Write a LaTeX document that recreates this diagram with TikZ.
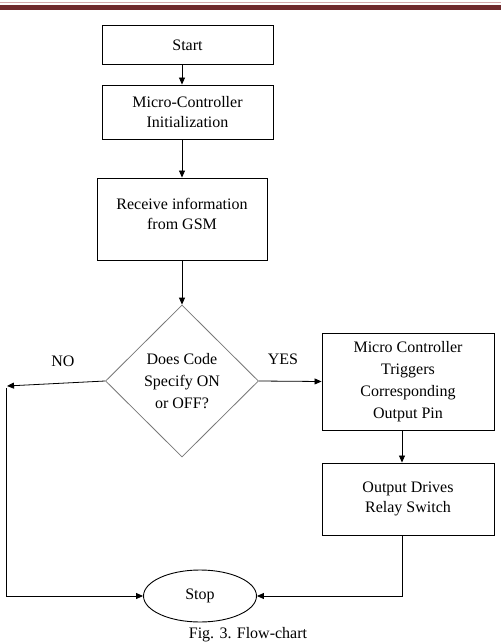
\documentclass[tikz,border=0pt]{standalone}
\usepackage{fontspec}
\setmainfont{Liberation Serif}
\usetikzlibrary{shapes.geometric,arrows.meta}
\definecolor{headred}{RGB}{112,42,44}
\definecolor{headpink}{RGB}{214,170,172}
\definecolor{diagray}{RGB}{120,120,120}

\tikzset{
  arr/.style={-{Triangle[length=7pt,width=6pt]}, line width=0.8pt},
  flowbox/.style={draw, line width=0.9pt, align=center, inner sep=2pt},
  decbox/.style={draw=diagray, line width=0.8pt, diamond, aspect=1, inner sep=0pt, align=center,
    minimum width=153pt, minimum height=152pt},
}

\begin{document}
\begin{tikzpicture}[x=1pt,y=-1pt,every node/.style={font=\fontsize{16}{22}\selectfont}]
\clip (0,0) rectangle (501,644);
\fill[white] (0,0) rectangle (501,644);
% page header rule
\draw[headpink, line width=1pt] (0,3) -- (501,3);
\fill[headred] (0,4.8) rectangle (501,9.6);

% boxes
\node[flowbox, minimum width=171pt, minimum height=39pt] (start) at (187.5,45) {Start};
\node[flowbox, minimum width=171pt, minimum height=54pt] (init) at (187.5,112) {Micro-Controller\\[-2pt]Initialization};
\node[flowbox, minimum width=170pt, minimum height=82pt] (recv) at (182,219) {Receive information\\[-2pt]from GSM\\[-12pt]};
\node[decbox] (dec) at (182,381) {Does Code\\Specify ON\\or OFF?};
\node[flowbox, minimum width=172pt, minimum height=97pt] (trig) at (408,381.5) {Micro Controller\\Triggers\\Corresponding\\Output Pin};
\node[flowbox, minimum width=172pt, minimum height=72pt] (out) at (408,499) {Output Drives\\[-2pt]Relay Switch};
\node[draw, ellipse, line width=0.9pt, minimum width=113pt, minimum height=52pt, inner sep=0pt] (stop) at (200,596) {Stop};

% branch labels
\node (no) at (63,361) {NO};
\node (yes) at (283,359) {YES};

% connectors
\draw[arr] (start.south -| recv.north) -- (init.north -| recv.north);
\draw[arr] (init.south -| recv.north) -- (recv.north);
\draw[arr] (recv.south) -- (dec.north);
\draw[arr] (dec.east) -- (trig.west);
\draw[arr] ([xshift=-6pt]trig.south) -- ([xshift=-6pt]out.north);
\draw[arr] ([xshift=-6pt]out.south) |- (stop.east);
\coordinate (noend) at (7,386);
\coordinate (nodown) at (6,388);
\draw[arr] (dec.west) -- (noend);
\draw[arr] (nodown) |- (stop.west);

% caption
\node[anchor=base] (cap) at (248,638) {Fig. 3. Flow-chart};
\end{tikzpicture}
\end{document}
